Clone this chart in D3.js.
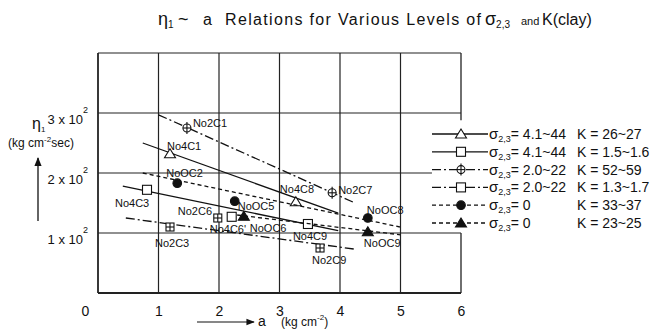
<!DOCTYPE html>
<html>
<head>
<meta charset="utf-8">
<script src="https://cdn.jsdelivr.net/npm/d3@7"></script>
<style>
  body { margin: 0; background: #fff; }
  svg { display: block; font-family: "Liberation Sans", Arial, sans-serif; }
</style>
</head>
<body>
<script>
// axis ticks
const xTicks = [0, 1, 2, 3, 4, 5, 6];
const yTicks = [100, 200, 300];
const yTickText = ['1 x 10', '2 x 10', '3 x 10'];

// sigma 4.1~4.4, K 2.6~2.7 (open triangle, solid)
const triA = [1.19, 3.27];
const triEta = [232, 152];
const triNames = ['No4C1', 'No4C8'];
const triFitA = [0.74, 3.97];
const triFitEta = [250, 133];

// sigma 4.1~4.4, K 1.5~1.6 (open square, solid)
const sqA = [0.81, 2.21, 3.47];
const sqEta = [172, 127, 115];
const sqNames = ['No4C3', "No4C6'", 'No4C9'];
const sqFitA = [0.41, 3.97];
const sqFitEta = [178, 104];

// sigma 2.0~2.2, K 5.2~5.9 (circle plus, dash-dot)
const opA = [1.47, 3.87];
const opEta = [275, 167];
const opNames = ['No2C1', 'No2C7'];
const opFitA = [1.0, 4.25];
const opFitEta = [297, 150];

// sigma 2.0~2.2, K 1.3~1.7 (square plus, dash-dot)
const bpA = [1.19, 1.98, 3.67];
const bpEta = [110, 125, 75];
const bpNames = ['No2C3', 'No2C6', 'No2C9'];
const bpFitA = [0.46, 4.25];
const bpFitEta = [125, 73];

// sigma 0, K 3.3~3.7 (dot, dashed)
const dotA = [1.31, 2.26, 4.46];
const dotEta = [183, 153, 125];
const dotNames = ['NoOC2', 'NoOC5', 'NoOC8'];
const dotFitA = [0.74, 4.99];
const dotFitEta = [200, 110];

// sigma 0, K 2.3~2.5 (filled triangle, dashed)
const ftA = [2.41, 4.46];
const ftEta = [128, 102];
const ftNames = ['NoOC6', 'NoOC9'];
const ftFitA = [2.3, 5.0];
const ftFitEta = [130, 97];

// legend texts
const legendSigma = ['4.1~44', '4.1~44', '2.0~22', '2.0~22', '0', '0'];
const legendK = ['26~27', '1.5~1.6', '52~59', '1.3~1.7', '33~37', '23~25'];

const W = 655, H = 329;
const svg = d3.select('body').append('svg')
  .attr('width', W).attr('height', H);
svg.append('rect').attr('width', W).attr('height', H).attr('fill', '#fff');

const x = d3.scaleLinear().domain([0, 6]).range([98, 461]);
const y = d3.scaleLinear().domain([0, 400]).range([293, 53]);

const SOLID = null, DASH = '4,3', DASHDOT = '9,3,2,3';

// grid and frame
const grid = svg.append('g').attr('stroke', '#222').attr('fill', 'none');
[1, 2, 3, 4, 5].forEach(v => {
  grid.append('line').attr('x1', x(v)).attr('x2', x(v))
    .attr('y1', y(0)).attr('y2', y(400)).attr('stroke-width', 1.2);
});
grid.append('line').attr('x1', x(0)).attr('x2', x(0))
  .attr('y1', y(0)).attr('y2', y(400)).attr('stroke-width', 1.8);
grid.append('line').attr('x1', x(6)).attr('x2', x(6))
  .attr('y1', y(0)).attr('y2', y(100)).attr('stroke-width', 1.3);
grid.append('line').attr('x1', x(6)).attr('x2', x(6))
  .attr('y1', y(288)).attr('y2', y(400)).attr('stroke-width', 1.3);
[0, 100, 300, 400].forEach(v => {
  grid.append('line').attr('x1', x(0)).attr('x2', x(6))
    .attr('y1', y(v)).attr('y2', y(v)).attr('stroke-width', v === 0 ? 1.8 : 1.2);
});
grid.append('line').attr('x1', x(0)).attr('x2', x(5.52))
  .attr('y1', y(200)).attr('y2', y(200)).attr('stroke-width', 1.2);

// x tick labels
const xAxis = d3.axisBottom(x).tickValues(xTicks).tickSize(0).tickPadding(0)
  .tickFormat(d3.format('d'));
svg.append('g')
  .attr('transform', 'translate(0,' + (y(0) + 13) + ')')
  .call(xAxis)
  .call(g => g.select('.domain').remove())
  .selectAll('text')
    .attr('font-size', 14).attr('font-family', '"Liberation Sans", Arial, sans-serif')
    .attr('fill', '#111')
    .attr('dx', d => d === 0 ? -13 : 0);

// y tick labels with superscript
const yAxis = d3.axisLeft(y).tickValues(yTicks).tickSize(0).tickPadding(10)
  .tickFormat((d, i) => yTickText[i]);
svg.append('g')
  .attr('transform', 'translate(' + x(0) + ',0)')
  .call(yAxis)
  .call(g => g.select('.domain').remove())
  .selectAll('text')
    .attr('font-size', 13).attr('font-family', '"Liberation Sans", Arial, sans-serif')
    .attr('fill', '#111').attr('dy', 10)
    .each(function() {
      d3.select(this).append('tspan').text('2')
        .attr('font-size', 9).attr('dy', -11);
    });

// marker drawing
function marker(g, type, cx, cy) {
  const s = g.append('g').attr('stroke', '#111').attr('stroke-width', 1.1);
  if (type === 'tri' || type === 'triF') {
    s.append('path')
      .attr('d', 'M' + cx + ',' + (cy - 5) + 'L' + (cx - 5.5) + ',' + (cy + 4) + 'L' + (cx + 5.5) + ',' + (cy + 4) + 'Z')
      .attr('fill', type === 'triF' ? '#111' : '#fff');
  } else if (type === 'sq') {
    s.append('rect').attr('x', cx - 4.5).attr('y', cy - 4.5)
      .attr('width', 9).attr('height', 9).attr('fill', '#fff');
  } else if (type === 'dot') {
    s.append('circle').attr('cx', cx).attr('cy', cy).attr('r', 4.3).attr('fill', '#111');
  } else if (type === 'oplus') {
    s.append('circle').attr('cx', cx).attr('cy', cy).attr('r', 4).attr('fill', '#fff');
    s.append('line').attr('x1', cx - 4).attr('x2', cx + 4).attr('y1', cy).attr('y2', cy);
    s.append('line').attr('x1', cx).attr('x2', cx).attr('y1', cy - 6).attr('y2', cy + 6);
  } else if (type === 'bplus') {
    s.append('rect').attr('x', cx - 4).attr('y', cy - 4)
      .attr('width', 8).attr('height', 8).attr('fill', '#fff');
    s.append('line').attr('x1', cx - 4).attr('x2', cx + 4).attr('y1', cy).attr('y2', cy);
    s.append('line').attr('x1', cx).attr('x2', cx).attr('y1', cy - 4).attr('y2', cy + 4);
  }
}

// label offsets (pixels from the point)
const offsets = {
  No4C1: [-3, -8], No4C8: [-16, -13],
  No4C3: [-32, 13], "No4C6'": [-22, 12], No4C9: [-15, 12],
  No2C1: [6, -5], No2C7: [6, -3],
  No2C3: [-15, 16], No2C6: [-40, -7], No2C9: [-8, 12],
  NoOC2: [-11, -10], NoOC5: [3, 5], NoOC8: [-1, -8],
  NoOC6: [6, 12], NoOC9: [-4, 11]
};

const plot = svg.append('g');
function series(a, eta, names, fitA, fitEta, dash, type) {
  plot.append('line')
    .attr('x1', x(fitA[0])).attr('y1', y(fitEta[0]))
    .attr('x2', x(fitA[1])).attr('y2', y(fitEta[1]))
    .attr('stroke', '#111').attr('stroke-width', 1.3)
    .attr('stroke-dasharray', dash);
  a.forEach((v, i) => {
    marker(plot, type, x(v), y(eta[i]));
    const o = offsets[names[i]];
    plot.append('text')
      .attr('x', x(v) + o[0]).attr('y', y(eta[i]) + o[1])
      .attr('dominant-baseline', 'central')
      .attr('font-size', 11).attr('fill', '#111')
      .text(names[i]);
  });
}
series(triA, triEta, triNames, triFitA, triFitEta, SOLID, 'tri');
series(sqA, sqEta, sqNames, sqFitA, sqFitEta, SOLID, 'sq');
series(opA, opEta, opNames, opFitA, opFitEta, DASHDOT, 'oplus');
series(bpA, bpEta, bpNames, bpFitA, bpFitEta, DASHDOT, 'bplus');
series(dotA, dotEta, dotNames, dotFitA, dotFitEta, DASH, 'dot');
series(ftA, ftEta, ftNames, ftFitA, ftFitEta, DASH, 'triF');

// legend
const legendTypes = ['tri', 'sq', 'oplus', 'sq', 'dot', 'triF'];
const legendDash = [SOLID, SOLID, DASHDOT, DASHDOT, DASH, DASH];
const leg = svg.append('g');
legendSigma.forEach((s, i) => {
  const ly = 134 + i * 17.8;
  leg.append('line').attr('x1', 432).attr('x2', 488).attr('y1', ly).attr('y2', ly)
    .attr('stroke', '#111').attr('stroke-width', 1.3)
    .attr('stroke-dasharray', legendDash[i]);
  marker(leg, legendTypes[i], 461, ly);
  const t = leg.append('text').attr('x', 489).attr('y', ly + 5)
    .attr('font-size', 14).attr('fill', '#111');
  t.append('tspan').text('σ').attr('font-size', 15);
  t.append('tspan').text('2,3').attr('font-size', 9).attr('dy', 3);
  t.append('tspan').text('= ' + s).attr('dy', -3);
  leg.append('text').attr('x', 577).attr('y', ly + 5)
    .attr('font-size', 14).attr('fill', '#111')
    .text('K = ' + legendK[i]);
});

// title
const title = svg.append('text').attr('y', 25).attr('fill', '#111').attr('font-size', 16);
title.append('tspan').attr('x', 158).text('η').attr('font-size', 18);
title.append('tspan').text('1').attr('font-size', 10).attr('dy', 3);
title.append('tspan').attr('x', 178).text('~').attr('font-size', 18).attr('dy', -3);
title.append('tspan').attr('x', 203).text('a');
title.append('tspan').attr('x', 225).text('Relations for Various Levels of')
  .attr('textLength', 256).attr('lengthAdjust', 'spacing');
title.append('tspan').attr('x', 485).text('σ').attr('font-size', 18);
title.append('tspan').text('2,3').attr('font-size', 10).attr('dy', 3);
title.append('tspan').attr('x', 521).text('and').attr('font-size', 11).attr('dy', -3);
title.append('tspan').attr('x', 542).text('K(clay)');

// y axis title
const yt = svg.append('text').attr('x', 32).attr('y', 129).attr('fill', '#111').attr('font-size', 16);
yt.append('tspan').text('η');
yt.append('tspan').text('1').attr('font-size', 8).attr('dy', 3);
const yu = svg.append('text').attr('x', 41).attr('y', 147).attr('text-anchor', 'middle')
  .attr('fill', '#111').attr('font-size', 12);
yu.append('tspan').text('(kg cm');
yu.append('tspan').text('-2').attr('font-size', 8).attr('dy', -5);
yu.append('tspan').text('sec)').attr('dy', 5);

const defs = svg.append('defs');
defs.append('marker').attr('id', 'arr').attr('viewBox', '0 0 10 10')
  .attr('refX', 9).attr('refY', 5).attr('markerWidth', 7).attr('markerHeight', 7)
  .attr('orient', 'auto')
  .append('path').attr('d', 'M0,1L10,5L0,9Z').attr('fill', '#111');
svg.append('line').attr('x1', 38).attr('x2', 38).attr('y1', 221).attr('y2', 158)
  .attr('stroke', '#111').attr('stroke-width', 1.3).attr('marker-end', 'url(#arr)');

// x axis title
svg.append('line').attr('x1', 197).attr('x2', 254).attr('y1', 322).attr('y2', 322)
  .attr('stroke', '#111').attr('stroke-width', 1.2).attr('marker-end', 'url(#arr)');
const xt = svg.append('text').attr('x', 258).attr('y', 326).attr('fill', '#111').attr('font-size', 14);
xt.append('tspan').text('a');
xt.append('tspan').attr('x', 281).text('(kg cm').attr('font-size', 12);
xt.append('tspan').text('-2').attr('font-size', 8).attr('dy', -6);
xt.append('tspan').text(')').attr('font-size', 12).attr('dy', 6);
</script>
</body>
</html>
